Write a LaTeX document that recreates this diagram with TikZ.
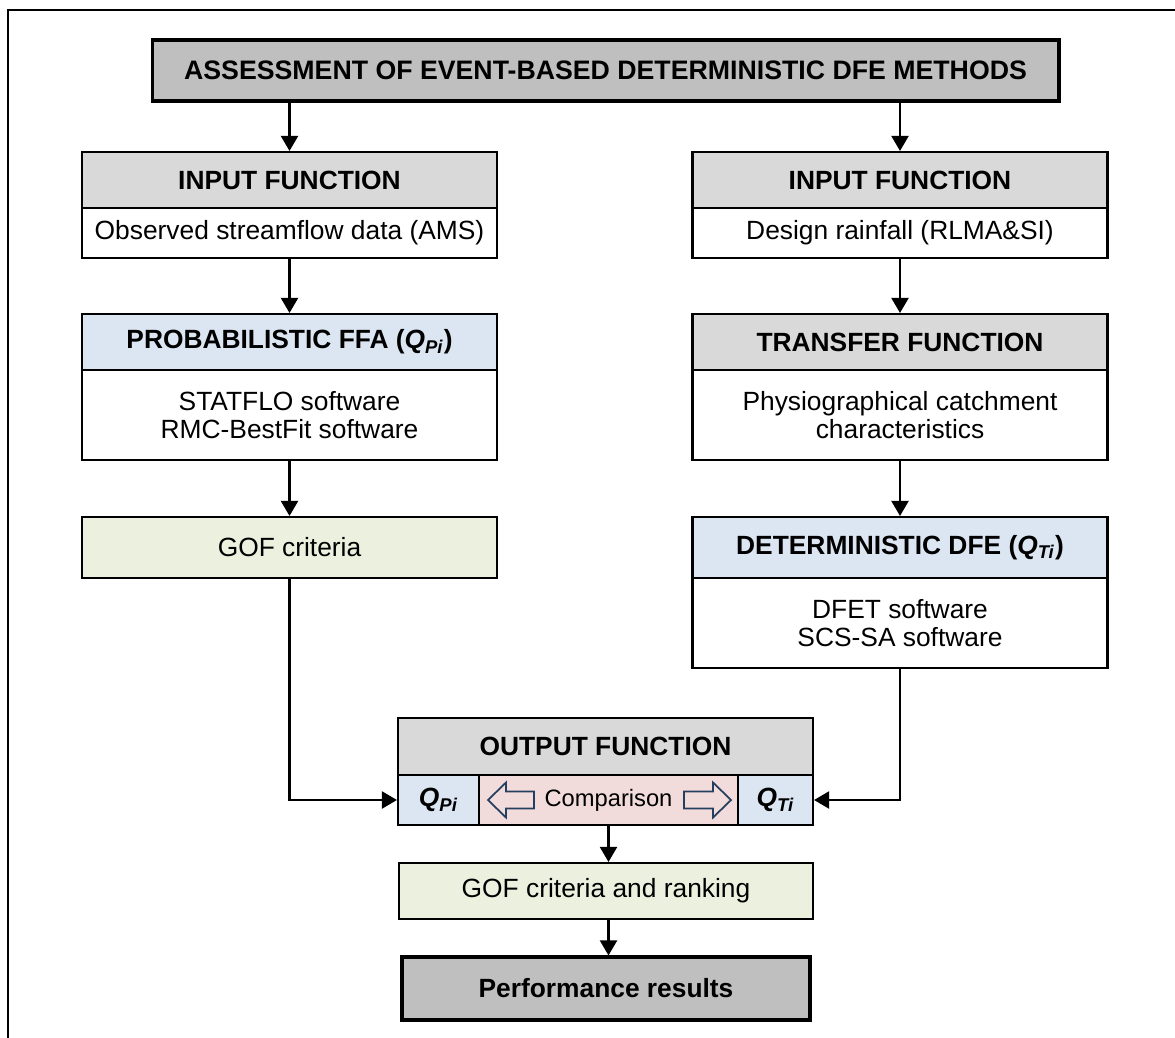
\documentclass[tikz,border=0pt]{standalone}
\usepackage{fontspec}
\setmainfont{Liberation Sans}
\usepackage{tikz}
\usetikzlibrary{arrows.meta}
\definecolor{titleGray}{RGB}{191,191,191}
\definecolor{headGray}{RGB}{217,217,217}
\definecolor{qBlue}{RGB}{220,230,242}
\definecolor{gofGreen}{RGB}{235,241,222}
\definecolor{cmpPink}{RGB}{242,220,219}
\definecolor{arrowNavy}{RGB}{36,63,96}

\begin{document}
\begin{tikzpicture}[
    x=0.02cm, y=-0.02cm,
    every node/.style={
        font=\fontsize{15}{16}\selectfont,
        inner sep=0pt,
        align=center
    },
    box/.style={
        draw=black,
        line width=1.2pt,
        rectangle,
        minimum width=8.3cm
    },
    head/.style={
        box,
        fill=headGray,
        minimum height=1.12cm,
        font=\fontsize{15}{16}\selectfont\bfseries
    },
    body/.style={
        box,
        fill=white
    },
    main/.style={
        box,
        fill=titleGray,
        line width=1.8pt,
        font=\fontsize{15.2}{16}\selectfont\bfseries
    },
    flow/.style={
        line width=1.2pt,
        -{Triangle[length=0.3cm,width=0.34cm]}
    },
    cmparrow/.style={
        draw=arrowNavy,
        line width=1pt,
        line join=miter
    }
]

\newcommand{\qpi}{\textbf{\textit{Q}\textsubscript{\textit{Pi}}}}
\newcommand{\qti}{\textbf{\textit{Q}\textsubscript{\textit{Ti}}}}

\useasboundingbox (0,0) rectangle (1175,1037);
\clip (0,0) rectangle (1175,1037);

%------------------------------------------------
% Frame (open at right and bottom)
%------------------------------------------------
\draw[line width=1.7pt] (8,1045) -- (8,10) -- (1185,10);

%------------------------------------------------
% Title
%------------------------------------------------
\node[main, minimum width=18.14cm, minimum height=1.22cm] (title)
    at (605.5,70.5) {ASSESSMENT OF EVENT-BASED DETERMINISTIC DFE METHODS};

%------------------------------------------------
% Left column: observed data
%------------------------------------------------
\node[head] (inLhead) at (289.5,180) {INPUT FUNCTION};
\node[body, minimum height=1.0cm] (inLbody) at (289.5,233)
    {Observed streamflow data (AMS)};

\node[head, fill=qBlue] (ffahead) at (289.5,342)
    {PROBABILISTIC FFA (\qpi)};
\node[body, minimum height=1.8cm] (ffabody) at (289.5,415)
    {STATFLO software\\RMC-BestFit software};

\node[body, fill=gofGreen, minimum height=1.22cm] (gof) at (289.5,547.5)
    {GOF criteria};

%------------------------------------------------
% Right column: design rainfall
%------------------------------------------------
\node[head] (inRhead) at (900,180) {INPUT FUNCTION};
\node[body, minimum height=1.0cm] (inRbody) at (900,233)
    {Design rainfall (RLMA\&SI)};

\node[head] (tfhead) at (900,342) {TRANSFER FUNCTION};
\node[body, minimum height=1.8cm] (tfbody) at (900,415)
    {Physiographical catchment\\characteristics};

\node[head, fill=qBlue, minimum height=1.22cm] (dfehead) at (900,547.5)
    {DETERMINISTIC DFE (\qti)};
\node[body, minimum height=1.8cm] (dfebody) at (900,623)
    {DFET software\\SCS-SA software};

%------------------------------------------------
% Output function
%------------------------------------------------
\node[head, minimum height=1.14cm] (outhead) at (605.5,746.5)
    {OUTPUT FUNCTION};

\node[body, fill=qBlue, minimum width=1.62cm, minimum height=1.0cm]
    (qpi) at (438.5,800) {\qpi};
\node[body, fill=cmpPink, minimum width=5.18cm, minimum height=1.0cm,
    font=\fontsize{13.5}{16}\selectfont]
    (cmp) at (608.5,800) {Comparison};
\node[body, fill=qBlue, minimum width=1.5cm, minimum height=1.0cm]
    (qti) at (775.5,800) {\qti};

% Block arrows either side of "Comparison"
\draw[cmparrow] (488,800) -- (506,782.5) -- (506,791.5) -- (534,791.5)
    -- (534,808.5) -- (506,808.5) -- (506,817.5) -- cycle;
\draw[cmparrow] (731,800) -- (713,782.5) -- (713,791.5) -- (684,791.5)
    -- (684,808.5) -- (713,808.5) -- (713,817.5) -- cycle;

\node[body, fill=gofGreen, minimum width=8.28cm, minimum height=1.12cm]
    (gofrank) at (606,891) {GOF criteria and ranking};

\node[main, minimum width=8.16cm, minimum height=1.26cm,
    font=\fontsize{15}{16}\selectfont\bfseries] (perf)
    at (606,988.5) {Performance results};

%------------------------------------------------
% Connectors
%------------------------------------------------
\draw[flow] (title.south -| inLhead.north) -- (inLhead.north);
\draw[flow] (title.south -| inRhead.north) -- (inRhead.north);

\draw[flow] (inLbody) -- (ffahead);
\draw[flow] (ffabody) -- (gof);
\draw[flow] (inRbody) -- (tfhead);
\draw[flow] (tfbody) -- (dfehead);

\draw[flow] (gof.south) |- (qpi.west);
\draw[flow] (dfebody.south) |- (qti.east);

\draw[flow] (cmp.south) -- (cmp.south |- gofrank.north);
\draw[flow] (gofrank.south -| cmp.south) -- (perf.north -| cmp.south);

\end{tikzpicture}
\end{document}
